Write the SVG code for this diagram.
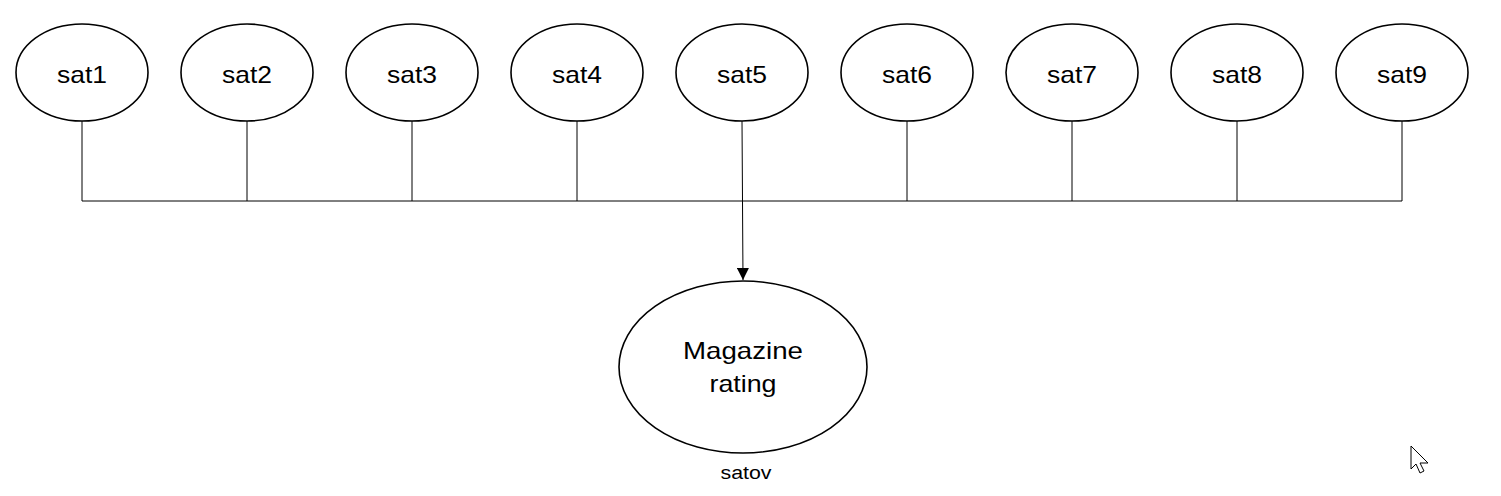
<svg xmlns="http://www.w3.org/2000/svg" width="1501" height="496" viewBox="0 0 1501 496">
<style>
.node ellipse{fill:#fff;stroke:#000;stroke-width:1.6}
.lbl{font-family:"Liberation Sans",Arial,sans-serif;font-size:24px;fill:#000;text-anchor:middle}
.small{font-family:"Liberation Sans",Arial,sans-serif;font-size:18px;fill:#000;text-anchor:middle}
.conn{fill:none;stroke:#000;stroke-width:1}
</style>
<defs>
<marker id="arr" viewBox="0 0 12 12" refX="12" refY="6" markerWidth="12" markerHeight="12" markerUnits="userSpaceOnUse" orient="auto">
<path d="M0,0 L12,6 L0,12 Z" fill="#000"/>
</marker>
</defs>
<rect width="1501" height="496" fill="#fff"/>
<g id="connectors">
<path class="conn" d="M82,121 V201 M247,121 V201 M412,121 V201 M577,121 V201 M907,121 V201 M1072,121 V201 M1237,121 V201 M1402,121 V201 M82,201 H1402"/>
<path class="conn" d="M742,121 L743,280" stroke-width="1.5" marker-end="url(#arr)"/>
</g>
<g id="sat1" class="node"><ellipse cx="82" cy="72.5" rx="66" ry="48.5"/><text class="lbl" x="82" y="82.5" textLength="50" lengthAdjust="spacingAndGlyphs">sat1</text></g>
<g id="sat2" class="node"><ellipse cx="247" cy="72.5" rx="66" ry="48.5"/><text class="lbl" x="247" y="82.5" textLength="50" lengthAdjust="spacingAndGlyphs">sat2</text></g>
<g id="sat3" class="node"><ellipse cx="412" cy="72.5" rx="66" ry="48.5"/><text class="lbl" x="412" y="82.5" textLength="50" lengthAdjust="spacingAndGlyphs">sat3</text></g>
<g id="sat4" class="node"><ellipse cx="577" cy="72.5" rx="66" ry="48.5"/><text class="lbl" x="577" y="82.5" textLength="50" lengthAdjust="spacingAndGlyphs">sat4</text></g>
<g id="sat5" class="node"><ellipse cx="742" cy="72.5" rx="66" ry="48.5"/><text class="lbl" x="742" y="82.5" textLength="50" lengthAdjust="spacingAndGlyphs">sat5</text></g>
<g id="sat6" class="node"><ellipse cx="907" cy="72.5" rx="66" ry="48.5"/><text class="lbl" x="907" y="82.5" textLength="50" lengthAdjust="spacingAndGlyphs">sat6</text></g>
<g id="sat7" class="node"><ellipse cx="1072" cy="72.5" rx="66" ry="48.5"/><text class="lbl" x="1072" y="82.5" textLength="50" lengthAdjust="spacingAndGlyphs">sat7</text></g>
<g id="sat8" class="node"><ellipse cx="1237" cy="72.5" rx="66" ry="48.5"/><text class="lbl" x="1237" y="82.5" textLength="50" lengthAdjust="spacingAndGlyphs">sat8</text></g>
<g id="sat9" class="node"><ellipse cx="1402" cy="72.5" rx="66" ry="48.5"/><text class="lbl" x="1402" y="82.5" textLength="50" lengthAdjust="spacingAndGlyphs">sat9</text></g>
<g id="magazine" class="node"><ellipse cx="743" cy="367" rx="124" ry="86"/>
<text class="lbl" x="743" y="359" textLength="120" lengthAdjust="spacingAndGlyphs">Magazine</text>
<text class="lbl" x="743" y="392" textLength="67" lengthAdjust="spacingAndGlyphs">rating</text>
<text class="small" x="746" y="479" textLength="51" lengthAdjust="spacingAndGlyphs">satov</text>
</g>
<path d="M1411,446 V469 L1416,464 L1420,473 L1424,471 L1420,463 L1428,463 Z" fill="#fff" stroke="#000" stroke-width="1"/>
</svg>
